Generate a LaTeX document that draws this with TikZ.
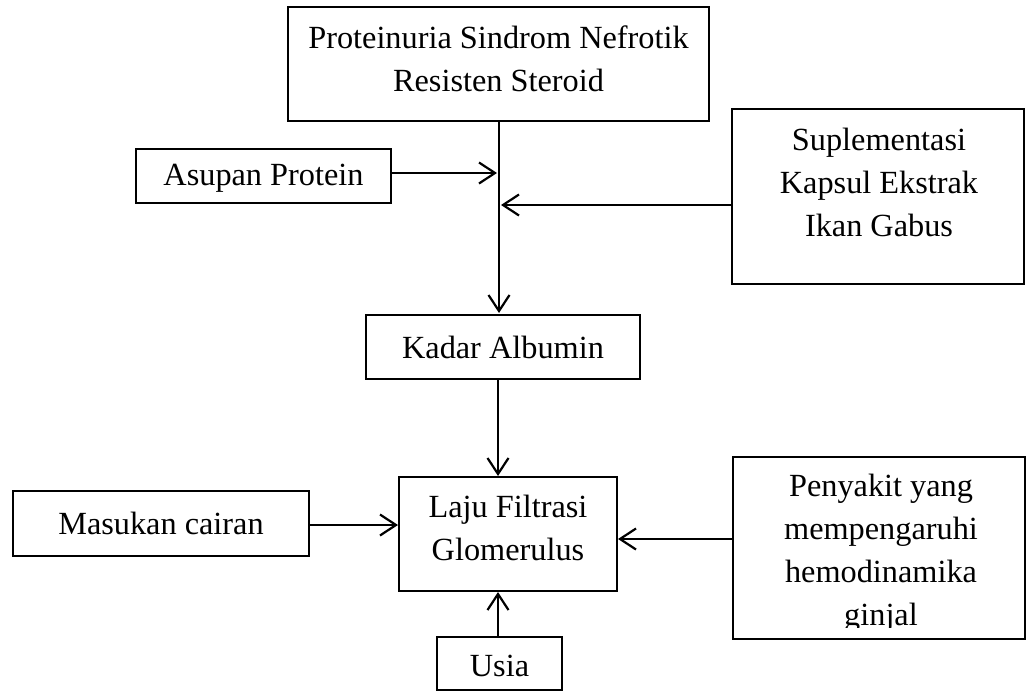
\documentclass[tikz,border=0pt]{standalone}
\usepackage{fontspec}
\setmainfont{Liberation Serif}
\usetikzlibrary{arrows.meta}
\begin{document}
\begin{tikzpicture}[x=1pt,y=-1pt,
  boxed/.style={draw,line width=2pt,inner sep=0pt},
  lbl/.style={align=center,inner sep=0pt,font=\fontsize{32.3}{43}\selectfont},
  arr/.style={line width=2.2pt,-{Straight Barb[length=16pt,width=21pt,line width=2.2pt]}}]
\useasboundingbox (0,0) rectangle (1026,691);
% boxes
\node[boxed,minimum width=421pt,minimum height=114pt] (top) at (498.5,64) {};
\node[lbl] (topT) at (498.5,58.5) {Proteinuria Sindrom Nefrotik\\Resisten Steroid};
\node[boxed,minimum width=255pt,minimum height=54pt] (asupan) at (263.5,176) {};
\node[lbl] (asupanT) at (263.5,178) {Asupan Protein};
\node[boxed,minimum width=292pt,minimum height=175pt] (supl) at (877.5,196.5) {};
\node[lbl] (suplT) at (879,182) {Suplementasi\\Kapsul Ekstrak\\Ikan Gabus};
\node[boxed,minimum width=274pt,minimum height=64pt] (kadar) at (503,347) {};
\node[lbl] (kadarT) at (503,347) {Kadar Albumin};
\node[boxed,minimum width=218pt,minimum height=114pt] (laju) at (508,534) {};
\node[lbl] (lajuT) at (508,528) {Laju Filtrasi\\Glomerulus};
\node[boxed,minimum width=296pt,minimum height=65pt] (masuk) at (161,523.5) {};
\node[lbl] (masukT) at (161,523) {Masukan cairan};
\node[boxed,minimum width=292pt,minimum height=182pt] (peny) at (878.5,548) {};
\begin{scope}
\clip (733,457) rectangle (1026,627);
\node[lbl] (penyT) at (881,553) {Penyakit yang\\mempengaruhi\\hemodinamika\\ginjal};
\end{scope}
\node[boxed,minimum width=125pt,minimum height=53pt] (usia) at (499.5,663.5) {};
\node[lbl] (usiaT) at (499.5,666) {Usia};
% junction coordinates
\coordinate (jA) at (497,173);
\coordinate (jS) at (501,205);
\coordinate (kTop) at (499,313);
% connectors
\draw[arr] (top.south -| kTop) -- (kTop);
\draw[arr] (asupan.east |- jA) -- (jA);
\draw[arr] (supl.west |- jS) -- (jS);
\draw[arr] (kadar.south -| 498,0) -- (laju.north -| 498,0);
\draw[arr] (masuk.east |- 0,525) -- (laju.west |- 0,525);
\draw[arr] (peny.west |- 0,539) -- (laju.east |- 0,539);
\draw[arr] (usia.north -| 498,0) -- (laju.south -| 498,0);
\end{tikzpicture}
\end{document}
